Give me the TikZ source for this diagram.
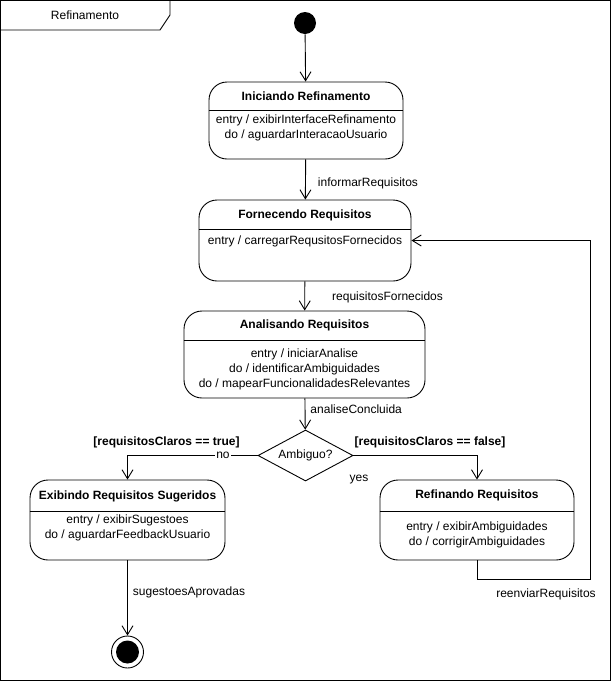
\documentclass[tikz,border=0pt]{standalone}
\usepackage{fontspec}
\setmainfont{Liberation Sans}
\usetikzlibrary{arrows.meta,shapes.geometric}
\begin{document}
\begin{tikzpicture}[x=1pt,y=-1pt,line width=0.9pt,
  every node/.style={inner sep=0pt,font=\fontsize{12}{15}\selectfont},
  statebox/.style={draw,rectangle,rounded corners=18pt},
  title/.style={font=\fontsize{12}{15}\selectfont\bfseries},
  body/.style={align=center},
  guard/.style={font=\fontsize{12}{15}\selectfont\bfseries},
  trans/.style={-{Straight Barb[length=9pt,width=11pt,line width=0.9pt]}},
  sep/.style={line width=0.8pt}]
\useasboundingbox (0,0) rectangle (611,681);

% frame and its name tab
\draw (0.5,0.5) rectangle (610.5,680.5);
\draw (0.5,30) -- (160,30) -- (170,15) -- (170,0.5);
\node (frameName) at (85,15) {Refinamento};

% initial state
\node[circle,fill=black,minimum size=22pt] (init) at (305,23) {};

% Iniciando Refinamento
\node[statebox,minimum width=194pt,minimum height=77pt] (ini) at (306,120.5) {};
\node[title] (iniTitle) at (306,96) {Iniciando Refinamento};
\draw[sep] (ini.west |- 0,110) -- (ini.east |- 0,110);
\node[body] (iniBody) at (306,127.5) {entry / exibirInterfaceRefinamento\\do / aguardarInteracaoUsuario};

% Fornecendo Requisitos
\node[statebox,minimum width=212pt,minimum height=81pt] (forn) at (305,240.5) {};
\node[title] (fornTitle) at (305,215) {Fornecendo Requisitos};
\draw[sep] (forn.west |- 0,229) -- (forn.east |- 0,229);
\node[body] (fornBody) at (305,241) {entry / carregarRequsitosFornecidos};

% Analisando Requisitos
\node[statebox,minimum width=241pt,minimum height=87pt] (anal) at (304.5,354.5) {};
\node[title] (analTitle) at (304.5,325) {Analisando Requisitos};
\draw[sep] (anal.west |- 0,340) -- (anal.east |- 0,340);
\node[body] (analBody) at (304.5,369) {entry / iniciarAnalise\\do / identificarAmbiguidades\\do / mapearFuncionalidadesRelevantes};

% decision
\node[draw,diamond,aspect=1.86,minimum width=95pt,minimum height=51pt] (amb) at (305.5,455.5) {Ambiguo?};

% Exibindo Requisitos Sugeridos
\node[statebox,minimum width=195pt,minimum height=80pt] (exib) at (127.5,520) {};
\node[title] (exibTitle) at (127.5,496) {Exibindo Requisitos Sugeridos};
\draw[sep] (exib.west |- 0,511) -- (exib.east |- 0,511);
\node[body] (exibBody) at (127.5,528) {entry / exibirSugestoes\\do / aguardarFeedbackUsuario};

% Refinando Requisitos
\node[statebox,minimum width=194pt,minimum height=80pt] (ref) at (477,520) {};
\node[title] (refTitle) at (477,495) {Refinando Requisitos};
\draw[sep] (ref.west |- 0,511) -- (ref.east |- 0,511);
\node[body] (refBody) at (477,534.5) {entry / exibirAmbiguidades\\do / corrigirAmbiguidades};

% final state
\node[circle,draw,minimum size=32pt] (final) at (127.5,652) {};
\node[circle,fill=black,minimum size=23pt] (finalDot) at (final.center) {};

% transitions
\draw[trans] (init) -- (ini);
\draw[trans] (ini) -- (forn) node[pos=0.6,right=12pt] (lblInf) {informarRequisitos};
\draw[trans] (forn) -- (anal) node[pos=0.55,anchor=west,xshift=27pt] (lblForn) {requisitosFornecidos};
\draw[trans] (anal) -- (amb) node[pos=0.35,anchor=west,xshift=5pt] (lblAn) {analiseConcluida};
\draw[trans] (amb.west) -| (exib.north);
\node[fill=white,inner xsep=1pt] (lblNo) at (223,455) {no};
\node[guard] (gTrue) at (166.5,442) {[requisitosClaros == true]};
\draw[trans] (amb.east) -| (ref.north);
\node[guard] (gFalse) at (430,442) {[requisitosClaros == false]};
\node (lblYes) at (359,480) {yes};
\draw[trans] (exib) -- (final) node[pos=0.43,anchor=west,xshift=5pt] (lblSug) {sugestoesAprovadas};
\coordinate (loopCorner) at (590,579);
\draw[trans] (ref.south) |- (loopCorner) |- (forn.east);
\node (lblReenv) at (546,594) {reenviarRequisitos};
\end{tikzpicture}
\end{document}
